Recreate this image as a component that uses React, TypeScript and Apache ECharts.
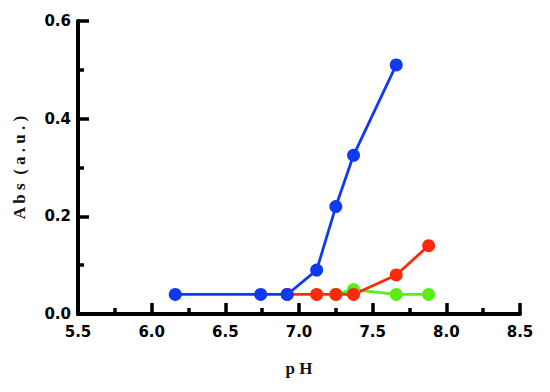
import React, { useEffect, useRef } from "react";
import * as echarts from "echarts";

const bluePH = [6.16, 6.74, 6.92, 7.12, 7.25, 7.37, 7.66];
const blueAbs = [0.04, 0.04, 0.04, 0.09, 0.22, 0.325, 0.51];
const redPH = [6.92, 7.12, 7.25, 7.37, 7.66, 7.88];
const redAbs = [0.04, 0.04, 0.04, 0.04, 0.08, 0.14];
const greenPH = [7.25, 7.37, 7.66, 7.88];
const greenAbs = [0.04, 0.05, 0.04, 0.04];

const pair = (xs: number[], ys: number[]) => xs.map((x, i) => [x, ys[i]]);

export default function App() {
  const ref = useRef<HTMLDivElement>(null);
  useEffect(() => {
    const chart = echarts.init(ref.current!, null, { renderer: "svg" });
    const labelStyle = {
      color: "#000",
      fontFamily: "DejaVu Sans, sans-serif",
      fontWeight: "bold" as const,
      fontSize: 15,
    };
    const nameStyle = {
      color: "#111",
      fontFamily: "Liberation Serif, Times New Roman, serif",
      fontWeight: "bold" as const,
      fontSize: 17,
    };
    const tickStyle = { color: "#000", width: 3.5 };
    const mk = (name: string, data: number[][], color: string) => ({
      name,
      type: "line",
      data,
      color,
      symbol: "circle",
      symbolSize: 13,
      lineStyle: { width: 2.8, color },
      itemStyle: { color },
    });
    chart.setOption({
      animation: false,
      grid: { left: 78, right: 30, top: 21, bottom: 78 },
      xAxis: {
        type: "value",
        min: 5.5,
        max: 8.5,
        interval: 0.5,
        name: "p H",
        nameLocation: "middle",
        nameGap: 46,
        nameTextStyle: nameStyle,
        axisLine: { show: true, lineStyle: { color: "#000", width: 4 } },
        axisTick: { show: true, inside: true, length: 11, lineStyle: tickStyle },
        minorTick: { show: true, splitNumber: 2, length: 6, lineStyle: tickStyle },
        axisLabel: { ...labelStyle, margin: 10, formatter: (v: number) => v.toFixed(1) },
        splitLine: { show: false },
      },
      yAxis: {
        type: "value",
        min: 0,
        max: 0.6,
        interval: 0.2,
        name: "A b s  ( a . u . )",
        nameLocation: "middle",
        nameGap: 50,
        nameTextStyle: nameStyle,
        axisLine: { show: true, lineStyle: { color: "#000", width: 4 } },
        axisTick: { show: true, inside: true, length: 11, lineStyle: tickStyle },
        minorTick: { show: true, splitNumber: 2, length: 6, lineStyle: tickStyle },
        axisLabel: { ...labelStyle, margin: 7, formatter: (v: number) => v.toFixed(1) },
        splitLine: { show: false },
      },
      series: [
        mk("green", pair(greenPH, greenAbs), "#5aee16"),
        mk("red", pair(redPH, redAbs), "#ff2a0c"),
        mk("blue", pair(bluePH, blueAbs), "#0f3af2"),
      ],
    });
    return () => chart.dispose();
  }, []);
  return <div ref={ref} style={{ width: 550, height: 392, position: "absolute", left: 0, top: 0 }} />;
}
